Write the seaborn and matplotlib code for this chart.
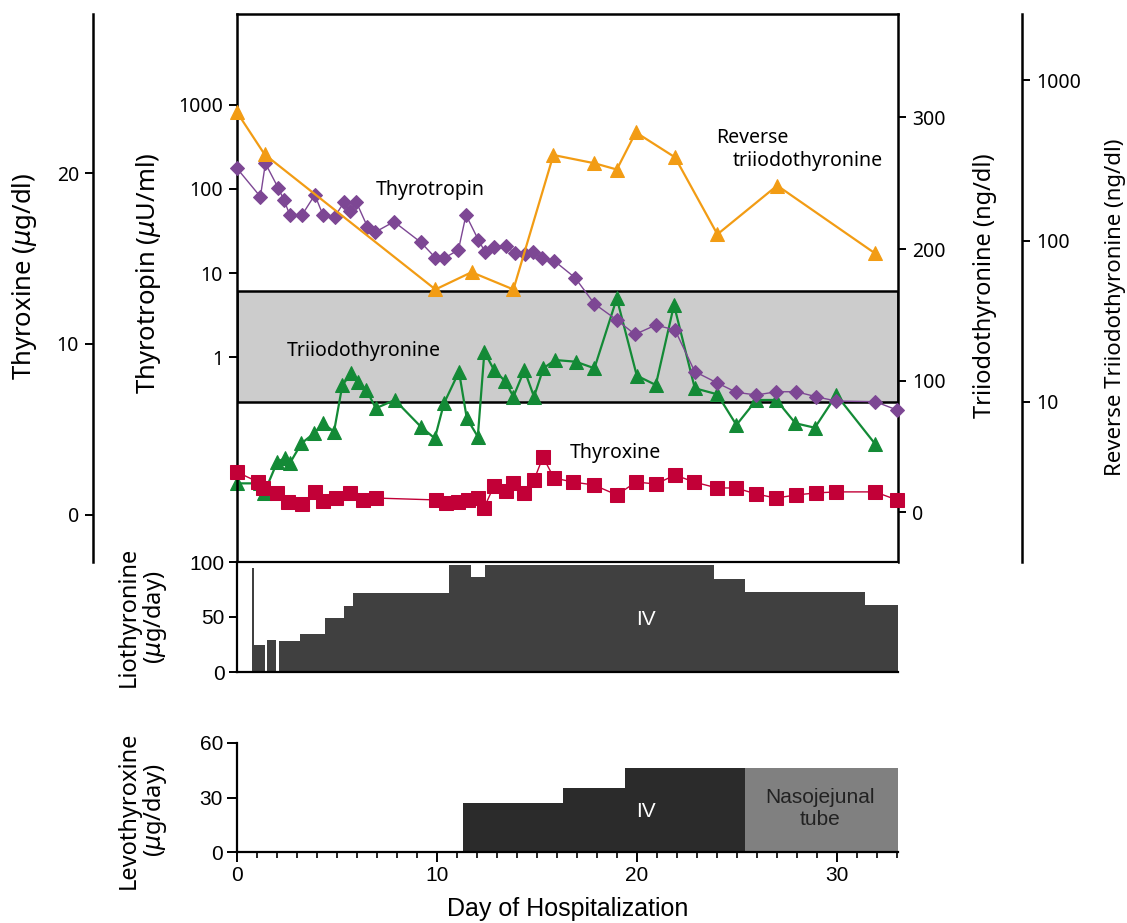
import matplotlib
matplotlib.use("Agg")
import matplotlib.pyplot as plt
from matplotlib import font_manager
from matplotlib.ticker import NullLocator, MultipleLocator, FixedLocator
import numpy as np
import seaborn as sns

# ---- data (day of hospitalization) ----
tsh_day = [0.0, 1.17, 1.42, 2.05, 2.35, 2.64, 3.25, 3.89, 4.3, 4.89,
           5.35, 5.64, 5.97, 6.52, 6.89, 7.85, 9.19, 9.92, 10.35, 11.07,
           11.45, 12.07, 12.4, 12.87, 13.43, 13.9, 14.4, 14.82, 15.27, 15.87,
           16.9, 17.87, 18.99, 19.9, 20.94, 21.9, 22.89, 24.02, 24.97, 25.97,
           26.97, 27.97, 28.97, 29.97, 31.92, 33.0]
tsh = [176, 81, 202, 104, 74, 49, 49, 85, 49, 47,
       69.5, 54, 69.5, 35.6, 30.5, 40.8, 23.2, 15.2, 15.0, 18.8,
       49, 24.7, 17.9, 20.6, 21.1, 17.2, 16.7, 17.6, 15.0, 13.9,
       8.8, 4.3, 2.76, 1.86, 2.40, 2.10, 0.67, 0.49, 0.38, 0.353,
       0.386, 0.386, 0.336, 0.299, 0.294, 0.234]

t4_day = [0.0, 1.05, 1.3, 2.0, 2.55, 3.25, 3.9, 4.3, 4.95, 5.65,
          6.3, 6.95, 9.95, 10.45, 11.05, 11.55, 12.05, 12.35, 12.85, 13.45,
          13.8, 14.35, 14.85, 15.3, 15.85, 16.8, 17.85, 19.0, 19.95, 20.95,
          21.9, 22.85, 24.0, 24.95, 25.95, 26.95, 27.95, 28.95, 29.95, 31.9,
          33.0]
t4 = [2.51, 1.93, 1.58, 1.29, 0.76, 0.64, 1.35, 0.82, 0.99, 1.29,
      0.88, 0.99, 0.88, 0.70, 0.76, 0.88, 0.99, 0.41, 1.70, 1.40,
      1.87, 1.29, 2.05, 3.39, 2.16, 1.93, 1.75, 1.17, 1.93, 1.81,
      2.34, 1.93, 1.58, 1.58, 1.23, 0.99, 1.17, 1.29, 1.35, 1.35,
      0.88]

t3_day = [0.0, 1.17, 1.35, 2.02, 2.39, 2.64, 3.22, 3.85, 4.3, 4.85,
          5.27, 5.72, 6.05, 6.47, 6.94, 7.89, 9.19, 9.89, 10.35, 11.1,
          11.49, 12.04, 12.37, 12.85, 13.4, 13.82, 14.37, 14.85, 15.32, 15.9,
          16.94, 17.87, 18.99, 19.99, 20.94, 21.85, 22.89, 24.02, 24.97, 25.97,
          26.97, 27.92, 28.89, 29.97, 31.92]
t3 = [21.8, 21.8, 14.2, 38.3, 40.8, 37.0, 52.2, 59.8, 67.5, 61.1,
      96.6, 105.5, 99.1, 92.8, 78.9, 85.2, 64.9, 56.0, 82.7, 106.7,
      71.3, 57.3, 121.9, 108.0, 99.6, 87.7, 108.0, 87.7, 109.3, 115.6,
      114.3, 109.3, 162.5, 103.7, 96.6, 157.4, 94.1, 89.5, 66.2, 85.2,
      85.2, 67.5, 64.1, 89.0, 51.5]
t3_normal = [84, 168]

rt3_day = [0.0, 1.38, 9.92, 11.73, 13.82, 15.82, 17.87, 18.99, 19.94, 21.9,
           24.02, 27.01, 31.89]
rt3 = [630, 345, 50, 64, 50, 342, 304, 278, 473, 331, 110, 221, 84]

# liothyronine doses (start day, end day, ug/day)
lio_start = [0.75, 0.87, 1.52, 2.08, 3.13, 4.38, 5.33, 5.8, 10.6, 11.72,
             12.38, 23.85, 25.42, 31.4]
lio_end = [0.87, 1.38, 1.97, 3.13, 4.38, 5.33, 5.8, 10.6, 11.72, 12.38,
           23.85, 25.42, 31.4, 33.05]
lio_dose = [95, 25, 29, 28, 35, 49, 60, 72, 97, 86, 97, 85, 73, 61]

# levothyroxine doses
levo_iv_start = [11.3, 16.3, 19.4]
levo_iv_end = [16.3, 19.4, 25.4]
levo_iv_dose = [27, 35.5, 46]
levo_nj_start = [25.4]
levo_nj_end = [33.05]
levo_nj_dose = [46]

PURPLE = "#7d4794"
ORANGE = "#f29c14"
GREEN = "#138a36"
RED = "#c20037"

sns.set_theme(style="ticks", rc={"axes.edgecolor": "black", "text.color": "black",
                                 "xtick.color": "black", "ytick.color": "black",
                                 "axes.labelcolor": "black"})
names = {f.name for f in font_manager.fontManager.ttflist}
main_font = "Noto Sans" if "Noto Sans" in names else "DejaVu Sans"
narrow_font = "Liberation Sans Narrow" if "Liberation Sans Narrow" in names else "Liberation Sans"
plt.rcParams["font.family"] = [main_font, "DejaVu Sans"]
plt.rcParams["mathtext.fontset"] = "dejavusans"

W, H = 1127, 923
fig = plt.figure(figsize=(W / 100, H / 100), dpi=100)


def rect(x0, y0, x1, y1):
    return [x0 / W, 1 - y1 / H, (x1 - x0) / W, (y1 - y0) / H]


ax_t3 = fig.add_axes(rect(237, 14, 898, 562))
ax_tsh = ax_t3.twinx()
ax_rt3 = ax_t3.twinx()
ax_t4 = ax_t3.twinx()
ax_lio = fig.add_axes(rect(237, 562, 898, 672), sharex=ax_t3)
ax_levo = fig.add_axes(rect(237, 743, 898, 852), sharex=ax_t3)

ax_tsh.set_yscale("log")
ax_rt3.set_yscale("log")

# reference band for triiodothyronine
ax_t3.axhspan(t3_normal[0], t3_normal[1], facecolor="#cccccc", edgecolor="black",
              linewidth=1.8, zorder=0)

line_kw = dict(sort=False, estimator=None, legend=False, clip_on=False)
sns.lineplot(x=t3_day, y=t3, ax=ax_t3, color=GREEN, marker="^", markersize=10,
             markeredgecolor=GREEN, linewidth=1.6, **line_kw)
sns.lineplot(x=tsh_day, y=tsh, ax=ax_tsh, color=PURPLE, marker="D", markersize=7.5,
             markeredgecolor=PURPLE, linewidth=1.0, **line_kw)
sns.lineplot(x=rt3_day, y=rt3, ax=ax_rt3, color=ORANGE, marker="^", markersize=10,
             markeredgecolor=ORANGE, linewidth=1.6, **line_kw)
sns.lineplot(x=t4_day, y=t4, ax=ax_t4, color=RED, marker="s", markersize=9.5,
             markeredgecolor=RED, linewidth=1.0, **line_kw)

ax_t3.set_xlim(0, 33.05)
ax_t3.set_ylim(-38, 378.7)
ax_tsh.set_ylim(10 ** -2.44, 10 ** 4.083)
ax_rt3.set_ylim(10 ** 0.006, 10 ** 3.41)
ax_t4.set_ylim(-2.75, 29.3)

tick_kw = dict(direction="out", length=6, width=1.4, labelsize=14, pad=4)

# host (triiodothyronine, right)
for s in ["left", "top", "right"]:
    ax_t3.spines[s].set_linewidth(1.8)
ax_t3.spines["bottom"].set_visible(False)
ax_t3.yaxis.tick_right()
ax_t3.yaxis.set_label_position("right")
ax_t3.set_yticks([0, 100, 200, 300])
ax_t3.tick_params(axis="y", **tick_kw)
ax_t3.tick_params(axis="x", which="both", bottom=False, labelbottom=False)
ax_t3.set_ylabel("Triiodothyronine (ng/dl)", fontsize=17)
ax_t3.yaxis.set_label_coords(1.1316, 0.505)
ax_t3.yaxis.label.set_verticalalignment("center")

# thyrotropin (log, left)
for s in ax_tsh.spines.values():
    s.set_visible(False)
ax_tsh.yaxis.tick_left()
ax_tsh.yaxis.set_label_position("left")
ax_tsh.yaxis.set_major_locator(FixedLocator([1, 10, 100, 1000]))
ax_tsh.yaxis.set_minor_locator(NullLocator())
ax_tsh.set_yticklabels(["1", "10", "100", "1000"])
ax_tsh.tick_params(axis="y", **tick_kw)
ax_tsh.set_ylabel("Thyrotropin ($\\mu$U/ml)", fontsize=18.5)
ax_tsh.yaxis.set_label_coords(-0.1346, 0.527)
ax_tsh.yaxis.label.set_verticalalignment("center")

# reverse T3 (log, outer right)
for s in ax_rt3.spines.values():
    s.set_visible(False)
ax_rt3.spines["right"].set_visible(True)
ax_rt3.spines["right"].set_linewidth(1.8)
ax_rt3.spines["right"].set_position(("axes", 1.1876))
ax_rt3.yaxis.set_major_locator(FixedLocator([10, 100, 1000]))
ax_rt3.yaxis.set_minor_locator(NullLocator())
ax_rt3.set_yticklabels(["10", "100", "1000"])
ax_rt3.tick_params(axis="y", **tick_kw)
ax_rt3.set_ylabel("Reverse Triiodothyronine (ng/dl)", fontsize=16)
ax_rt3.yaxis.set_label_coords(1.329, 0.465)
ax_rt3.yaxis.label.set_verticalalignment("center")

# thyroxine (outer left)
for s in ax_t4.spines.values():
    s.set_visible(False)
ax_t4.spines["left"].set_visible(True)
ax_t4.spines["left"].set_linewidth(1.8)
ax_t4.spines["left"].set_position(("axes", -0.2179))
ax_t4.yaxis.tick_left()
ax_t4.yaxis.set_label_position("left")
ax_t4.set_yticks([0, 10, 20])
ax_t4.tick_params(axis="y", **tick_kw)
ax_t4.set_ylabel("Thyroxine ($\\mu$g/dl)", fontsize=18.5)
ax_t4.yaxis.set_label_coords(-0.322, 0.522)
ax_t4.yaxis.label.set_verticalalignment("center")

# series names
txt_kw = dict(transform=ax_t3.transAxes, fontsize=14, va="center", ha="left")
ax_t3.text(0.2103, 0.679, "Thyrotropin", **txt_kw)
ax_t3.text(0.0756, 0.385, "Triiodothyronine", **txt_kw)
ax_t3.text(0.5038, 0.199, "Thyroxine", **txt_kw)
ax_t3.text(0.7247, 0.7737, "Reverse", **txt_kw)
ax_t3.text(0.7504, 0.7318, "triiodothyronine", **txt_kw)

# liothyronine panel
ax_lio.bar(lio_start, lio_dose, width=np.subtract(lio_end, lio_start), align="edge",
           color="#404040", linewidth=0)
ax_lio.set_ylim(0, 100)
ax_lio.set_yticks([0, 50, 100])
ax_lio.spines["right"].set_visible(False)
for s in ["left", "top", "bottom"]:
    ax_lio.spines[s].set_linewidth(1.6)
ax_lio.tick_params(axis="x", which="both", bottom=False, labelbottom=False)
ax_lio.tick_params(axis="y", direction="out", length=6, width=1.4, labelsize=15, pad=3)
for lab in ax_lio.get_yticklabels():
    lab.set_family(narrow_font)
ax_lio.set_ylabel("Liothyronine\n($\\mu$g/day)", fontsize=17, linespacing=1.0)
ax_lio.yaxis.set_label_coords(-0.142, 0.5)
ax_lio.yaxis.label.set_verticalalignment("center")
ax_lio.text(0.619, 0.473, "IV", transform=ax_lio.transAxes, color="white",
            fontsize=15, ha="center", va="center", family=narrow_font)

# levothyroxine panel
ax_levo.bar(levo_iv_start, levo_iv_dose, width=np.subtract(levo_iv_end, levo_iv_start),
            align="edge", color="#2b2b2b", linewidth=0)
ax_levo.bar(levo_nj_start, levo_nj_dose, width=np.subtract(levo_nj_end, levo_nj_start),
            align="edge", color="#808080", linewidth=0)
ax_levo.set_ylim(0, 60)
ax_levo.set_yticks([0, 30, 60])
ax_levo.set_xlim(0, 33.05)
ax_levo.xaxis.set_major_locator(FixedLocator([0, 10, 20, 30]))
ax_levo.xaxis.set_minor_locator(MultipleLocator(1))
for s in ["top", "right"]:
    ax_levo.spines[s].set_visible(False)
for s in ["left", "bottom"]:
    ax_levo.spines[s].set_linewidth(1.6)
ax_levo.tick_params(axis="both", which="major", direction="out", length=7, width=1.4,
                    labelsize=15, pad=3)
ax_levo.tick_params(axis="x", which="minor", direction="out", length=4, width=1.2,
                    bottom=True)
for lab in ax_levo.get_yticklabels() + ax_levo.get_xticklabels():
    lab.set_family(narrow_font)
ax_levo.set_ylabel("Levothyroxine\n($\\mu$g/day)", fontsize=17, linespacing=1.0)
ax_levo.yaxis.set_label_coords(-0.142, 0.385)
ax_levo.yaxis.label.set_verticalalignment("center")
ax_levo.set_xlabel("Day of Hospitalization", fontsize=18, family=narrow_font, labelpad=9)
ax_levo.text(0.619, 0.376, "IV", transform=ax_levo.transAxes, color="white",
             fontsize=15, ha="center", va="center", family=narrow_font)
ax_levo.text(0.882, 0.40, "Nasojejunal\ntube", transform=ax_levo.transAxes,
             color="#222222", fontsize=15, ha="center", va="center", family=narrow_font)

fig.savefig("out.png", dpi=100)
